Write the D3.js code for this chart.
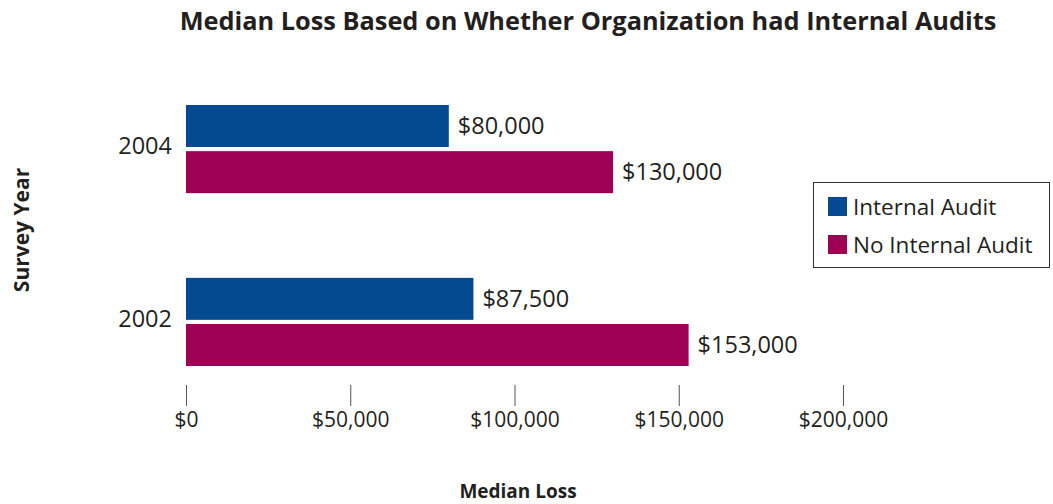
<!DOCTYPE html>
<html>
<head>
<meta charset="utf-8">
<script src="https://cdn.jsdelivr.net/npm/d3@7/dist/d3.min.js"></script>
<style>
  body { margin: 0; background: #fff; }
  svg text { font-family: "Open Sans", "Noto Sans", sans-serif; fill: #231f20; }
</style>
</head>
<body>
<svg id="chart" width="1053" height="504"></svg>
<script>
'use strict';

// chart data
const years = ['2004', '2002'];
const seriesNames = ['Internal Audit', 'No Internal Audit'];
const internalAudit = [80000, 87500];
const noInternalAudit = [130000, 153000];
const tickValues = [0, 50000, 100000, 150000, 200000];

const colors = ['#034a91', '#9d0054'];

const svg = d3.select('#chart');

const x = d3.scaleLinear()
  .domain([0, 200000])
  .range([186, 843]);

const y = d3.scaleBand()
  .domain(years)
  .range([105, 366])
  .paddingInner(0.49)
  .paddingOuter(0);

const ySub = d3.scaleBand()
  .domain(seriesNames)
  .range([0, y.bandwidth()])
  .paddingInner(0.09);

const fmt = d => '$' + d3.format(',')(d);

// build rows: one per year with both series
const rows = years.map((yr, i) => ({
  year: yr,
  values: [internalAudit[i], noInternalAudit[i]]
}));

// fit a text element to a target width by adjusting the font size
function fitWidth(sel, width) {
  const node = sel.node();
  const size = parseFloat(sel.attr('font-size'));
  const w = node.getComputedTextLength();
  sel.attr('font-size', (size * width / w).toFixed(2));
}

// title
svg.append('text')
  .attr('x', 588)
  .attr('y', 30)
  .attr('text-anchor', 'middle')
  .attr('font-size', 22)
  .attr('font-weight', 'bold')
  .text('Median Loss Based on Whether Organization had Internal Audits')
  .call(fitWidth, 817);

// bars
const groups = svg.selectAll('g.year')
  .data(rows)
  .join('g')
  .attr('class', 'year')
  .attr('transform', d => 'translate(0,' + y(d.year) + ')');

groups.selectAll('rect')
  .data(d => d.values.map((v, i) => ({ key: seriesNames[i], value: v, idx: i })))
  .join('rect')
  .attr('x', x(0))
  .attr('y', d => ySub(d.key))
  .attr('width', d => x(d.value) - x(0))
  .attr('height', ySub.bandwidth())
  .attr('fill', d => colors[d.idx]);

groups.selectAll('text.value')
  .data(d => d.values.map((v, i) => ({ key: seriesNames[i], value: v })))
  .join('text')
  .attr('class', 'value')
  .attr('x', d => x(d.value) + 9)
  .attr('y', d => ySub(d.key) + ySub.bandwidth() / 2)
  .attr('dy', '0.35em')
  .attr('font-size', 23.5)
  .text(d => fmt(d.value));

// year labels
svg.selectAll('text.yearLabel')
  .data(years)
  .join('text')
  .attr('class', 'yearLabel')
  .attr('x', 172)
  .attr('y', d => y(d) + y.bandwidth() / 2 - 3)
  .attr('dy', '0.35em')
  .attr('text-anchor', 'end')
  .attr('font-size', 23.5)
  .text(d => d);

// x axis: tick marks and labels only
const xAxis = d3.axisBottom(x)
  .tickValues(tickValues)
  .tickFormat(fmt)
  .tickSize(21)
  .tickPadding(6);

const axisG = svg.append('g')
  .attr('transform', 'translate(0,385)')
  .call(xAxis);
axisG.select('.domain').remove();
axisG.selectAll('.tick line').attr('stroke', '#555').attr('stroke-width', 1);
axisG.selectAll('.tick text')
  .attr('font-size', 21)
  .attr('font-family', '"Open Sans", sans-serif')
  .attr('fill', '#231f20');

// axis titles
svg.append('text')
  .attr('x', 518)
  .attr('y', 498)
  .attr('text-anchor', 'middle')
  .attr('font-size', 19)
  .attr('font-weight', 'bold')
  .text('Median Loss');

svg.append('text')
  .attr('transform', 'translate(29,230) rotate(-90)')
  .attr('text-anchor', 'middle')
  .attr('font-size', 21)
  .attr('font-weight', 'bold')
  .text('Survey Year');

// legend
const legend = svg.append('g').attr('transform', 'translate(813,182)');
legend.append('rect')
  .attr('x', 0.5)
  .attr('y', 0.5)
  .attr('width', 236)
  .attr('height', 85)
  .attr('fill', '#fff')
  .attr('stroke', '#333')
  .attr('stroke-width', 1);

const items = legend.selectAll('g.item')
  .data(seriesNames)
  .join('g')
  .attr('class', 'item')
  .attr('transform', (d, i) => 'translate(15,' + (15 + i * 38) + ')');

items.append('rect')
  .attr('width', 19)
  .attr('height', 19)
  .attr('fill', (d, i) => colors[i]);

items.append('text')
  .attr('x', 25)
  .attr('y', 10)
  .attr('dy', '0.35em')
  .attr('font-size', 22.5)
  .text(d => d);
</script>
</body>
</html>
